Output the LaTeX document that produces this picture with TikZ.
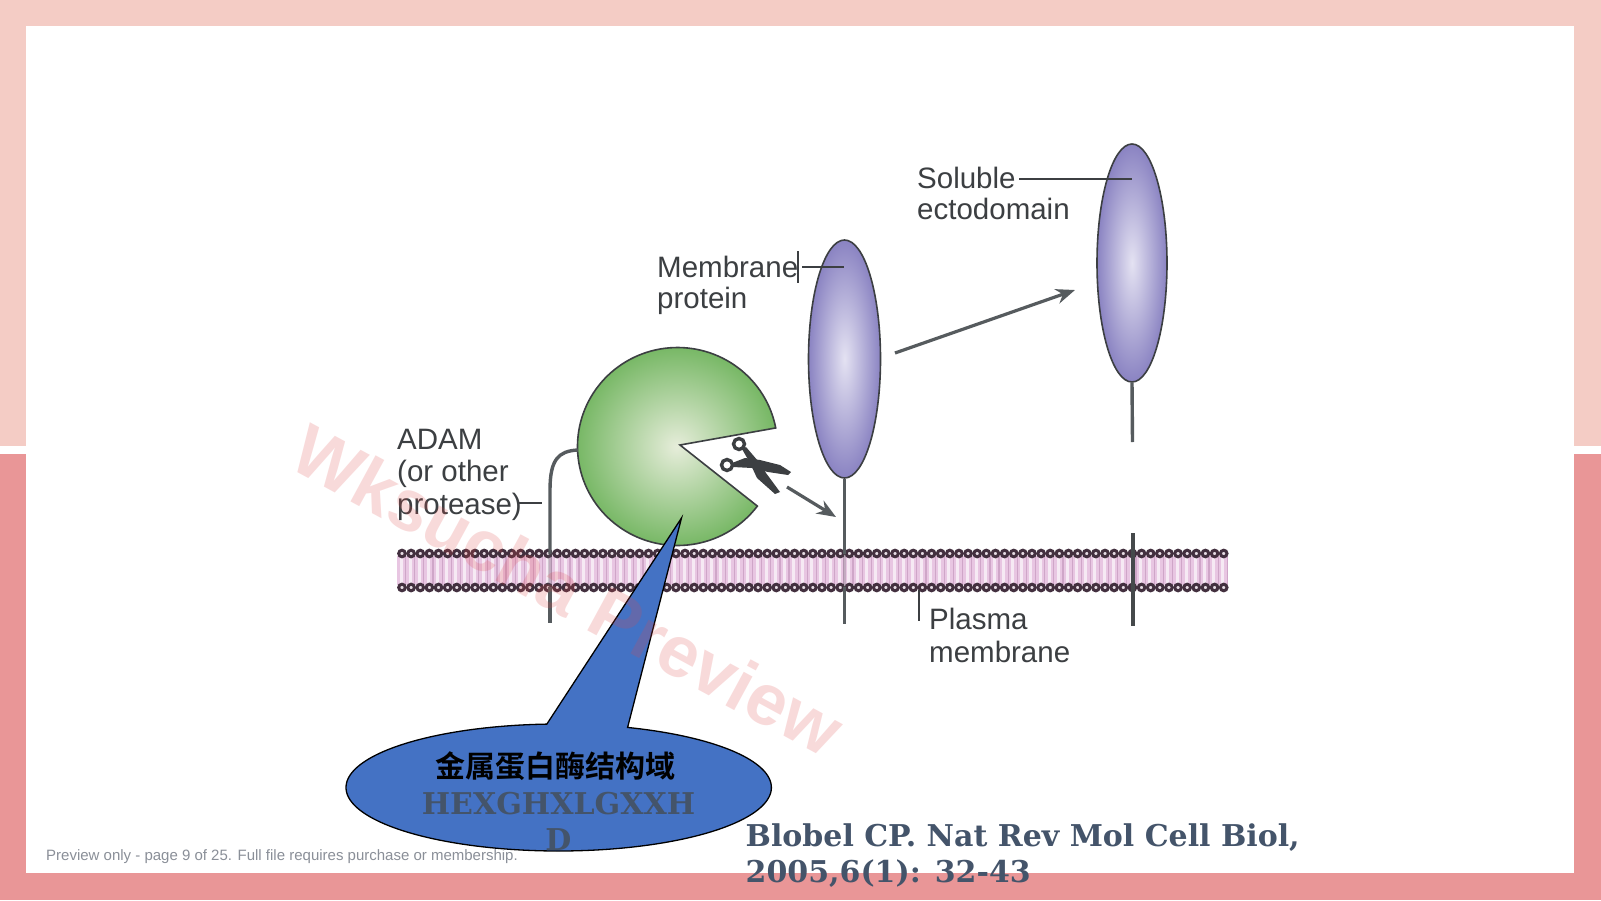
\documentclass[tikz,border=0pt]{standalone}
\usepackage{fontspec}
\setmainfont{Liberation Sans}
\newfontfamily\cjkbold{Noto Sans CJK SC}[BoldFont={Noto Sans CJK SC Bold}]
\newfontfamily\slabfont{DejaVu Serif}
\usetikzlibrary{shapes.geometric,arrows.meta}
\definecolor{bandlight}{HTML}{F4CCC5}
\definecolor{banddark}{HTML}{E99697}
\definecolor{inkgrey}{HTML}{3C3F42}
\definecolor{stemgrey}{HTML}{565B5E}
\definecolor{slate}{HTML}{44546A}
\definecolor{calloutblue}{HTML}{4472C4}
\definecolor{beadink}{HTML}{43303F}
\definecolor{beadcore}{HTML}{E6DCE4}
\definecolor{lipidbase}{HTML}{E8C6E2}
\definecolor{lipidlight}{HTML}{F6EAF4}
\definecolor{lipiddark}{HTML}{CFA6C8}
\definecolor{protcore}{HTML}{E4E2F2}
\definecolor{protrim}{HTML}{8A83C2}
\definecolor{adamcore}{HTML}{E6EDDA}
\definecolor{adamrim}{HTML}{78B866}
\definecolor{notegrey}{HTML}{8A8F98}
\definecolor{markred}{HTML}{E04848}
\tikzset{
  lbl/.style={anchor=base west,inner sep=0pt,text=inkgrey,font=\fontsize{29.5}{32}\selectfont},
  cite/.style={anchor=base west,inner sep=0pt,text=slate,font=\fontsize{30}{33}\selectfont\slabfont\bfseries},
  protein/.style={ellipse,draw=inkgrey,line width=1.6pt,inner color=protcore,outer color=protrim,inner sep=0pt},
  stem/.style={draw=stemgrey,line width=3.4pt},
  leader/.style={draw=inkgrey,line width=2pt},
  flowarrow/.style={draw=stemgrey,line width=3.2pt,-{Stealth[length=19pt,width=15pt]}},
  bead/.style={draw=beadink,line width=3pt,fill=beadcore}
}
\begin{document}
\begin{tikzpicture}[x=1pt,y=-1pt]
\useasboundingbox (0,0) rectangle (1601,900);
% slide frame
\fill[bandlight] (0,0) rectangle (1601,446);
\fill[white] (0,446) rectangle (1601,454);
\fill[banddark] (0,454) rectangle (1601,900);
\fill[white] (26,26) rectangle (1574,873);

% lipid bilayer
\fill[lipidbase] (397,556) rectangle (1228,585);
\foreach \i in {0,...,90}{
  \fill[lipidlight] ({399.5+9.13*\i},558) rectangle ({402.5+9.13*\i},583);
  \fill[lipiddark] ({405+9.13*\i},557) rectangle ({406.2+9.13*\i},584);
}
\foreach \i in {0,...,90}{
  \draw[bead] ({402+9.13*\i},553.5) circle (3.3pt);
  \draw[bead] ({402+9.13*\i},587.5) circle (3.3pt);
}

% membrane-bound protein and shed ectodomain
\node[protein,minimum width=72pt,minimum height=238pt] (protA) at (844.5,359) {};
\node[protein,minimum width=70pt,minimum height=238pt] (protB) at (1132,263) {};
\coordinate (stemAin) at (844.5,554);
\coordinate (stemAout) at (844.5,587);
\coordinate (stemAend) at (844.5,624);
\coordinate (stemBtop) at (1132.5,442);
\coordinate (anchorTop) at (1133,533);
\coordinate (anchorEnd) at (1133,626);
\draw[stem] (protA.south) -- (stemAin);
\draw[stem,opacity=.25] (stemAin) -- (stemAout);
\draw[stem] (stemAout) -- (stemAend);
\draw[stem] (protB.south) -- (stemBtop);
\draw[stem,draw=stemgrey!80!black,line width=3.6pt] (anchorTop) -- (anchorEnd);

% ADAM protease
\shade[draw=inkgrey,line width=1.6pt,inner color=adamcore,outer color=adamrim]
  (680,445) -- plot[domain=10.8:323,samples=120] ({677.5+100*cos(\x)},{446.5-99*sin(\x)}) -- cycle;
\node[inner sep=0pt,minimum size=0pt] (adamEdge) at (578,450) {};
\coordinate (adamStemIn) at (550,554);
\coordinate (adamStemOut) at (550,587);
\coordinate (adamStemEnd) at (550,623);
\draw[stem] (adamEdge) .. controls (558,451) and (550,460) .. (550,490) -- (adamStemIn);
\draw[stem,opacity=.25] (adamStemIn) -- (adamStemOut);
\draw[stem] (adamStemOut) -- (adamStemEnd);

% scissors
\draw[inkgrey,line width=3.4pt] (739,444) circle (5.5pt);
\draw[inkgrey,line width=3.4pt] (727,465) circle (5.5pt);
\fill[inkgrey] (742,449) -- (746,447) -- (758,461) -- (766,473) -- (780,492) -- (775,494) -- (757,478) -- (750,463) -- cycle;
\fill[inkgrey] (732,463) -- (745,458) -- (760,460) -- (780,465) -- (791,472) -- (788,475) -- (768,472) -- (752,468) -- (733,467) -- cycle;

% movement arrows
\coordinate (cutStart) at (787,487);
\coordinate (cutEnd) at (836,517);
\coordinate (shedStart) at (895,353);
\coordinate (shedEnd) at (1075,290);
\draw[flowarrow] (cutStart) -- (cutEnd);
\draw[flowarrow] (shedStart) -- (shedEnd);

% labels
\node[lbl] (solubleA) at (917,188) {Soluble};
\node[lbl] (solubleB) at (917,219) {ectodomain};
\node[lbl] (memA) at (657,277) {Membrane};
\node[lbl] (memB) at (657,308) {protein};
\node[lbl] (adamA) at (397,449) {ADAM};
\node[lbl] (adamB) at (397,481) {(or other};
\node[lbl] (adamD) at (397,514) {protease)};
\node[lbl] (plasmaA) at (929,629) {Plasma};
\node[lbl] (plasmaB) at (929,662) {membrane};

% leader lines
\coordinate (solTip) at (1132,179);
\coordinate (solTail) at (1019,179);
\draw[leader] (solTail) -- (solTip);
\coordinate (memTip) at (844,267);
\coordinate (memTail) at (802,267);
\draw[leader] (memTail) -- (memTip);
\coordinate (memBarA) at (798,251);
\coordinate (memBarB) at (798,283);
\draw[leader] (memBarA) -- (memBarB);
\coordinate (adamTail) at (519,503);
\coordinate (adamTip) at (542,503);
\draw[leader] (adamTail) -- (adamTip);
\coordinate (plasmaTip) at (919,590);
\coordinate (plasmaTail) at (919,621);
\draw[leader] (plasmaTip) -- (plasmaTail);

% speech bubble
\coordinate (bubbleTip) at (681.5,518);
\filldraw[fill=calloutblue,draw=black,line width=1.3pt,line join=miter]
  (bubbleTip) -- plot[domain=71.1:-266.8,samples=181] ({558.7+212.7*cos(\x)},{787.5-63.5*sin(\x)}) -- cycle;

% watermark
\node[rotate=-28.5,inner sep=0pt,text=markred,text opacity=.2,font=\fontsize{72.5}{74}\selectfont\bfseries] (mark) at (568,590) {Wksucha Preview};

% bubble text
\node[inner sep=0pt,anchor=base,font=\fontsize{30}{32}\selectfont\cjkbold\bfseries] (zh) at (555,777) {金属蛋白酶结构域};
\node[inner sep=0pt,anchor=base,text=slate,font=\fontsize{30}{32}\selectfont\slabfont\bfseries] (seqA) at (558.5,814) {HEXGHXLGXXH};
\node[inner sep=0pt,anchor=base,text=slate,font=\fontsize{30}{32}\selectfont\slabfont\bfseries] (seqB) at (558.5,850) {D};

% footer and citation
\node[anchor=base west,inner sep=0pt,text=notegrey,font=\fontsize{15}{18}\selectfont] (note) at (46,860) {Preview only - page 9 of 25. Full file requires purchase or membership.};
\node[cite] (citeA) at (745.5,846) {Blobel CP. Nat Rev Mol Cell Biol,};
\node[cite] (citeB) at (745.5,882) {2005,6(1): 32-43};
\end{tikzpicture}
\end{document}
